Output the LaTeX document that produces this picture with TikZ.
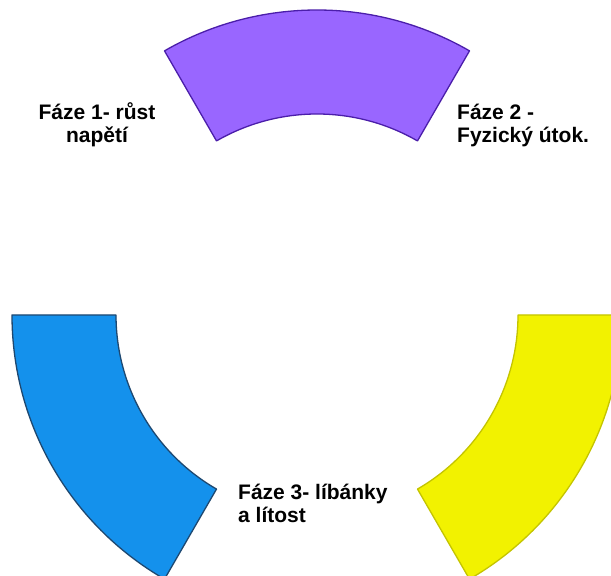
\documentclass[tikz,border=0pt]{standalone}
\usepackage{fontspec}
\setmainfont{Liberation Sans}
\usetikzlibrary{positioning}
\definecolor{phasepurple}{RGB}{153,102,255}
\definecolor{purpleline}{RGB}{75,30,170}
\definecolor{phaseblue}{RGB}{20,145,236}
\definecolor{blueline}{RGB}{30,72,112}
\definecolor{phaseyellow}{RGB}{242,242,0}
\definecolor{yellowline}{RGB}{196,196,0}

\begin{document}
\begin{tikzpicture}[x=1pt, y=1pt,
  ringpart/.style={line width=1.3pt, line join=round},
  phasetext/.style={font=\fontsize{21}{23}\selectfont\bfseries, inner sep=0pt}]
\fill[white] (0,0) rectangle (611,576);
\useasboundingbox (0,0) rectangle (611,576);
\clip (0,0) rectangle (611,576);
\coordinate (c) at (317,261);
% three parts of the ring
\foreach \a/\col/\lin in {60/phasepurple/purpleline, 180/phaseblue/blueline, 300/phaseyellow/yellowline}
  \draw[ringpart, draw=\lin, fill=\col] ([shift={(\a:201)}]c)
    arc[start angle=\a, delta angle=60, radius=201]
    -- ([shift={(\a+60:305)}]c)
    arc[start angle=\a+60, delta angle=-60, radius=305] -- cycle;
% texts
\node[phasetext, align=center, anchor=base] (f1) at (97,433) {Fáze 1- růst\\napětí};
\node[phasetext, align=left, anchor=base west] (f2) at (457,433) {Fáze 2 -\\Fyzický útok.};
\node[phasetext, align=left, anchor=base west] (f3) at (238,53) {Fáze 3- líbánky\\a lítost};
\end{tikzpicture}
\end{document}
